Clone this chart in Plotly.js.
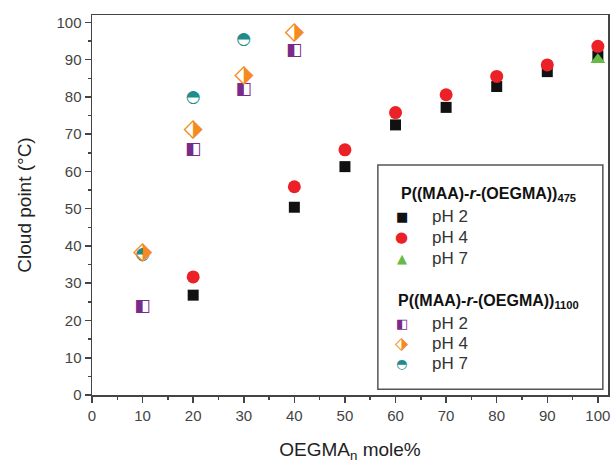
<!DOCTYPE html>
<html>
<head>
<meta charset="utf-8">
<script src="https://cdn.plot.ly/plotly-3.0.1.min.js"></script>
<style>html,body{margin:0;padding:0;background:#fff;}#chart{width:616px;height:466px;}</style>
</head>
<body>
<div id="chart"></div>
<script>
// OEGMA_n mole% (x) and cloud points (°C)
var x475 = [20, 40, 50, 60, 70, 80, 90, 100];
var y475_pH2 = [26.8, 50.4, 61.3, 72.5, 77.2, 82.8, 86.8, 91.0];
var y475_pH4 = [31.7, 55.9, 65.8, 75.8, 80.6, 85.5, 88.6, 93.6];
var x475_pH7 = [100];
var y475_pH7 = [90.0];

var x1100_pH2 = [10, 20, 30, 40];
var y1100_pH2 = [23.8, 65.8, 81.9, 92.5];
var x1100_pH4 = [10, 20, 30, 40];
var y1100_pH4 = [38.2, 71.3, 85.7, 97.3];
var x1100_pH7 = [10, 20, 30];
var y1100_pH7 = [37.6, 79.9, 95.3];

var xTicks = [0, 10, 20, 30, 40, 50, 60, 70, 80, 90, 100];
var yTicks = [0, 10, 20, 30, 40, 50, 60, 70, 80, 90, 100];

var cBlack = '#111111', cRed = '#ec2027', cGreen = '#66bb44';
var cPurple = '#7a2a88', cOrange = '#f48a20', cTeal = '#1f8c8c';
var glyphFont = 'DejaVu Sans';

function glyphTrace(x, y, ch, color, size) {
  return {
    type: 'scatter', mode: 'text', x: x, y: y,
    text: x.map(function(){return ch;}),
    textposition: 'middle center',
    textfont: {family: glyphFont, size: size, color: color},
    showlegend: false, hoverinfo: 'skip', cliponaxis: false
  };
}

var traces = [
  {type:'scatter', mode:'markers', x:x475, y:y475_pH2, showlegend:false,
   marker:{symbol:'square', size:11, color:cBlack}},
  {type:'scatter', mode:'markers', x:x475, y:y475_pH4, showlegend:false,
   marker:{symbol:'circle', size:13, color:cRed}},
  {type:'scatter', mode:'markers', x:x475_pH7, y:y475_pH7, showlegend:false,
   marker:{symbol:'triangle-up', size:13, color:cGreen}},
  glyphTrace(x1100_pH7, y1100_pH7, '\u25D3', cTeal, 17),
  glyphTrace(x1100_pH2, y1100_pH2, '\u25E7', cPurple, 17),
  glyphTrace(x1100_pH4, y1100_pH4, '\u2B17', cOrange, 25)
];

var tickFont = {family:'Liberation Sans, Arial, sans-serif', size:15, color:'#444'};
var axisCommon = {
  range:[0, 102], showgrid:false, zeroline:false,
  showline:true, linecolor:'#444', linewidth:1.5, mirror:true,
  ticks:'outside', ticklen:6, tickwidth:1.5, tickcolor:'#444',
  tickfont:tickFont,
  minor:{ticks:'outside', ticklen:3, tickwidth:1.5, tickcolor:'#444', dtick:5}
};

var legendX0 = 0.554, legendX1 = 0.990, legendY0 = 0.015, legendY1 = 0.605;
var symX = 0.60, txtX = 0.655;
var titleFont = {family:'Liberation Sans, Arial, sans-serif', size:16, color:'#111'};
var entryFont = {family:'Liberation Sans, Arial, sans-serif', size:17, color:'#333'};

function yPix(py){ return (394.7 - py) / 379.7; }

var legendTitles = [
  {text:'<b>P((MAA)-<i>r</i>-(OEGMA))<sub>475</sub></b>', py:194},
  {text:'<b>P((MAA)-<i>r</i>-(OEGMA))<sub>1100</sub></b>', py:301}
];
var legendEntries = [
  {sym:'\u25A0', color:cBlack, label:'pH 2', py:216, size:13},
  {sym:'\u25CF', color:cRed, label:'pH 4', py:237, size:15},
  {sym:'\u25B2', color:cGreen, label:'pH 7', py:258, size:13},
  {sym:'\u25E7', color:cPurple, label:'pH 2', py:323, size:13},
  {sym:'\u2B17', color:cOrange, label:'pH 4', py:343, size:17},
  {sym:'\u25D3', color:cTeal, label:'pH 7', py:363, size:13}
];

var annotations = [];
legendTitles.forEach(function(t){
  annotations.push({xref:'paper', yref:'paper', x:(legendX0+legendX1)/2 - 0.003, y:yPix(t.py),
    xanchor:'center', yanchor:'middle', text:t.text, showarrow:false, font:titleFont});
});
legendEntries.forEach(function(e){
  annotations.push({xref:'paper', yref:'paper', x:symX, y:yPix(e.py),
    xanchor:'center', yanchor:'middle', text:e.sym, showarrow:false,
    font:{family:glyphFont, size:e.size, color:e.color}});
  annotations.push({xref:'paper', yref:'paper', x:txtX, y:yPix(e.py),
    xanchor:'left', yanchor:'middle', text:e.label, showarrow:false, font:entryFont});
});

var layout = {
  width:616, height:466,
  margin:{l:92, r:8, t:15, b:71},
  paper_bgcolor:'#fff', plot_bgcolor:'#fff',
  showlegend:false,
  xaxis: Object.assign({}, axisCommon, {
    tickvals:xTicks, ticktext:xTicks.map(String),
    title:{text:'OEGMA<sub>n</sub> mole%', font:{family:'Liberation Sans, Arial, sans-serif', size:19, color:'#222'}, standoff:20}
  }),
  yaxis: Object.assign({}, axisCommon, {
    tickvals:yTicks, ticktext:yTicks.map(String),
    title:{text:'Cloud point (°C)', font:{family:'Liberation Sans, Arial, sans-serif', size:19, color:'#222'}, standoff:20}
  }),
  shapes:[{type:'rect', xref:'paper', yref:'paper', x0:legendX0, x1:legendX1, y0:legendY0, y1:legendY1,
    line:{color:'#555', width:1.5}, fillcolor:'rgba(255,255,255,1)', layer:'below'}],
  annotations:annotations
};

Plotly.newPlot('chart', traces, layout, {displayModeBar:false, staticPlot:true});
</script>
</body>
</html>
